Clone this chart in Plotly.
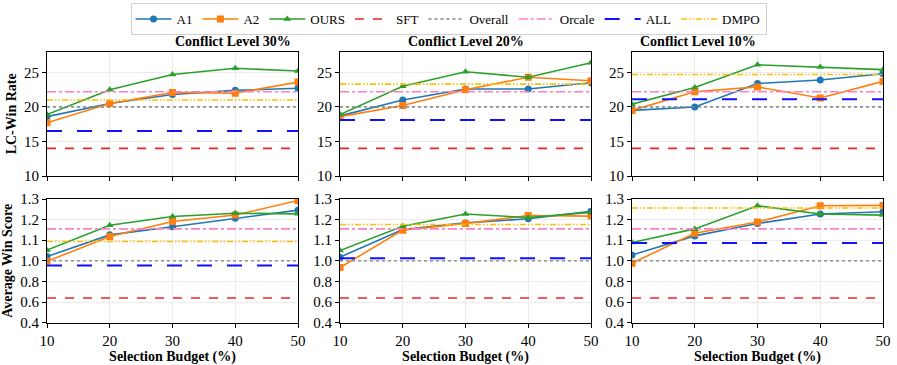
import plotly.graph_objects as go
from plotly.subplots import make_subplots

budgets = [10, 20, 30, 40, 50]
levels = ["Conflict Level 30%", "Conflict Level 20%", "Conflict Level 10%"]

# LC-Win Rate (top row), one list per conflict level
lc_a1 = [[18.6, 20.5, 21.8, 22.4, 22.7],
         [18.7, 21.0, 22.6, 22.6, 23.5],
         [19.5, 20.0, 23.4, 23.9, 24.8]]
lc_a2 = [[17.7, 20.5, 22.1, 22.0, 23.6],
         [18.6, 20.2, 22.5, 24.3, 23.8],
         [19.5, 22.2, 22.9, 21.3, 23.7]]
lc_ours = [[18.9, 22.5, 24.7, 25.6, 25.2],
           [18.9, 23.0, 25.1, 24.3, 26.4],
           [20.4, 22.8, 26.1, 25.8, 25.4]]
lc_sft = [14.0, 14.0, 14.0]
lc_overall = [20.0, 20.0, 20.0]
lc_orcale = [22.2, 22.2, 22.2]
lc_all = [16.5, 18.1, 21.1]
lc_dmpo = [21.0, 23.3, 24.7]

# Average Win Score (bottom row)
ws_a1 = [[1.021, 1.126, 1.165, 1.207, 1.246],
         [1.018, 1.152, 1.184, 1.204, 1.240],
         [1.028, 1.121, 1.181, 1.227, 1.238]]
ws_a2 = [[0.995, 1.118, 1.191, 1.222, 1.293],
         [0.935, 1.149, 1.181, 1.220, 1.217],
         [0.977, 1.134, 1.188, 1.267, 1.269]]
ws_ours = [[1.052, 1.173, 1.215, 1.231, 1.228],
           [1.050, 1.168, 1.227, 1.210, 1.235],
           [1.089, 1.155, 1.267, 1.227, 1.222]]
ws_sft = [0.64, 0.64, 0.64]
ws_overall = [1.0, 1.0, 1.0]
ws_orcale = [1.155, 1.155, 1.155]
ws_all = [0.955, 1.013, 1.086]
ws_dmpo = [1.094, 1.176, 1.256]

ws_ticks = [0.4, 0.6, 0.8, 1.0, 1.1, 1.2, 1.3]


def squash(v):
    # broken scale: 0.2 per step below 1.0, 0.1 per step above
    return (v - 1.0) / 0.1 if v >= 1.0 else (v - 1.0) / 0.2


FONT = "Liberation Serif"
W, H = 897, 365

fig = make_subplots(rows=2, cols=3)

series = [
    ("A1", "#1f77b4", "circle"),
    ("A2", "#ff7f0e", "square"),
    ("OURS", "#2ca02c", "triangle-up"),
]
baselines = [
    ("SFT", "#e8262a", "dash", 1.6),
    ("Overall", "#808080", "dot", 1.4),
    ("Orcale", "#ff7fc4", "dashdot", 1.6),
    ("ALL", "#1010ff", "longdash", 2.0),
    ("DMPO", "#ffbf00", "6px,2px,1.5px,2px,1.5px,2px", 1.6),
]

for c in range(3):
    col = c + 1
    first = c == 0
    for (name, color, sym), top, bot in zip(series,
                                            [lc_a1, lc_a2, lc_ours],
                                            [ws_a1, ws_a2, ws_ours]):
        fig.add_trace(go.Scatter(
            x=budgets, y=top[c], name=name, mode="lines+markers",
            line=dict(color=color, width=1.6),
            marker=dict(color=color, symbol=sym, size=7),
            legendgroup=name, showlegend=first), row=1, col=col)
        fig.add_trace(go.Scatter(
            x=budgets, y=[squash(v) for v in bot[c]], name=name,
            mode="lines+markers",
            line=dict(color=color, width=1.6),
            marker=dict(color=color, symbol=sym, size=7),
            legendgroup=name, showlegend=False), row=2, col=col)
    for (name, color, dash, w), top, bot in zip(
            baselines,
            [lc_sft, lc_overall, lc_orcale, lc_all, lc_dmpo],
            [ws_sft, ws_overall, ws_orcale, ws_all, ws_dmpo]):
        fig.add_trace(go.Scatter(
            x=[budgets[0], budgets[-1]], y=[top[c], top[c]], name=name,
            mode="lines", line=dict(color=color, width=w, dash=dash),
            legendgroup=name, showlegend=first), row=1, col=col)
        fig.add_trace(go.Scatter(
            x=[budgets[0], budgets[-1]], y=[squash(bot[c])] * 2, name=name,
            mode="lines", line=dict(color=color, width=w, dash=dash),
            legendgroup=name, showlegend=False), row=2, col=col)

# panel positions in pixels
x_dom = [(47, 298), (340, 591), (632, 883)]
y_top = (51.7, 176)
y_bot = (199, 322.7)


def ydom(p):
    return [1 - p[1] / H, 1 - p[0] / H]


axis_style = dict(
    showline=True, mirror=True, linecolor="black", linewidth=1,
    ticks="outside", ticklen=4, tickcolor="black",
    showgrid=True, gridcolor="#ebebeb", gridwidth=1,
    zeroline=False, automargin=False,
    tickfont=dict(family=FONT, size=15, color="black"),
)

for c in range(3):
    col = c + 1
    fig.update_xaxes(domain=[x_dom[c][0] / W, x_dom[c][1] / W],
                     range=[10, 50], tickvals=budgets, showticklabels=False,
                     **axis_style, row=1, col=col)
    fig.update_xaxes(domain=[x_dom[c][0] / W, x_dom[c][1] / W],
                     range=[10, 50], tickvals=budgets,
                     title_text="<b>Selection Budget (%)</b>",
                     title_font=dict(family=FONT, size=14, color="black"),
                     title_standoff=2,
                     **axis_style, row=2, col=col)
    fig.update_yaxes(domain=ydom(y_top), range=[10, 28],
                     tickvals=[10, 15, 20, 25], **axis_style, row=1, col=col)
    fig.update_yaxes(domain=ydom(y_bot), range=[-3, 3],
                     tickvals=[squash(v) for v in ws_ticks],
                     ticktext=[f"{v:.1f}" for v in ws_ticks],
                     **axis_style, row=2, col=col)
    fig.add_annotation(text=f"<b>{levels[c]}</b>", xref="paper", yref="paper",
                       x=(x_dom[c][0] + x_dom[c][1]) / 2 / W,
                       y=1 - 42 / H, yanchor="middle", showarrow=False,
                       font=dict(family=FONT, size=14, color="black"))

fig.update_yaxes(title_text="<b>LC-Win Rate</b>", title_standoff=4,
                 title_font=dict(family=FONT, size=14, color="black"),
                 row=1, col=1)
fig.update_yaxes(title_text="<b>Average Win Score</b>", title_standoff=4,
                 title_font=dict(family=FONT, size=14, color="black"),
                 row=2, col=1)

fig.update_layout(
    width=W, height=H,
    margin=dict(l=0, r=0, t=0, b=0, autoexpand=False),
    plot_bgcolor="white", paper_bgcolor="white",
    font=dict(family=FONT, size=13, color="black"),
    legend=dict(orientation="h", x=0.5, xanchor="center",
                y=1 - 3 / H, yanchor="top",
                bordercolor="#d0d0d0", borderwidth=1,
                font=dict(family=FONT, size=13, color="black"),
                itemwidth=36, tracegroupgap=0),
    showlegend=True,
)

# drop the default page margin so the figure sits at the window corner
fig.write_html("out.html", config={"displayModeBar": False},
               post_script="document.body.style.margin='0';")
